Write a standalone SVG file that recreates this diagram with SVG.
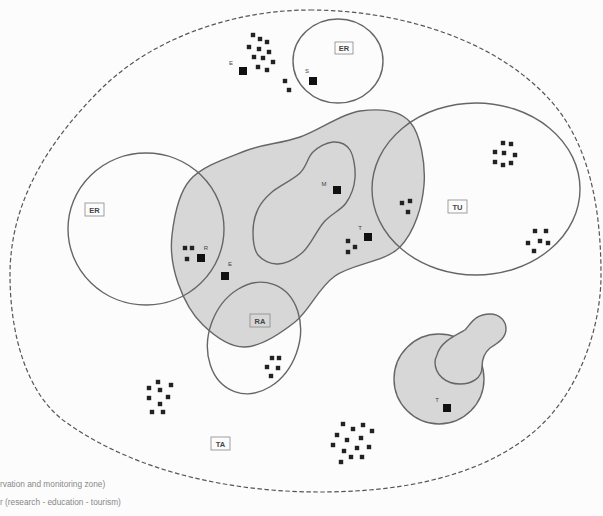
<svg xmlns="http://www.w3.org/2000/svg" xmlns:xlink="http://www.w3.org/1999/xlink" width="603" height="516" viewBox="0 0 603 516">
<style>
.ln{fill:none;stroke:#666;stroke-width:1.4}
.gr{fill:#d7d7d7;stroke:#666;stroke-width:1.4}
.dash{fill:none;stroke:#555;stroke-width:1.2;stroke-dasharray:4.5 2.5}
.box{fill:none;stroke:#888;stroke-width:0.8}
.lb{font-family:"Liberation Sans",Arial,sans-serif;font-size:7.5px;font-weight:bold;fill:#444;text-anchor:middle}
.sm{font-family:"Liberation Sans",Arial,sans-serif;font-size:6px;fill:#444;text-anchor:middle}
.cap{font-family:"Liberation Sans",Arial,sans-serif;font-size:8.3px;fill:#888}
.dot{fill:#222}
.sq{fill:#111}
</style>
<defs>
<rect id="d" x="-2.2" y="-2.2" width="4.4" height="4.4" class="dot"/>
<rect id="b" x="-4" y="-4" width="8" height="8" class="sq"/>
</defs>
<rect width="603" height="516" fill="#fcfcfc"/>

<g id="zones">
<path id="outer" class="dash" d="M310,10 C395,10 493,37 550,100 C590,144 601,210 601,275 C601,330 577,398 530,435 C474,480 392,492 320,492 C233,492 138,473 67,423 C25,394 10,331 10,275 C10,205 45,145 100,90 C153,37 235,10 310,10 Z"/>
<path id="core" class="gr" d="M172,235 C174,217.8 177.8,194 190,180 C202.2,166 226.7,158.2 245,151 C263.3,143.8 280.8,143.7 300,137 C319.2,130.3 341.7,113.5 360,111 C378.3,108.5 399.3,109.7 410,122 C420.7,134.3 425.7,164.2 424,185 C422.3,205.8 414.8,231.8 400,247 C385.2,262.2 352.5,263.5 335,276 C317.5,288.5 310,310.2 295,322 C280,333.8 260.3,346.5 245,347 C229.7,347.5 214.2,335.7 203,325 C191.8,314.3 183.2,298 178,283 C172.8,268 170,252.2 172,235 Z"/>
<path id="inner" class="ln" d="M253,232 C253,224.3 254.8,215.7 258,209 C261.2,202.3 265,198 272,192 C279,186 293.2,179.7 300,173 C306.8,166.3 307.5,157.2 313,152 C318.5,146.8 326.8,142.3 333,142 C339.2,141.7 346.3,144 350,150 C353.7,156 355.7,169.2 355,178 C354.3,186.8 351.2,195.7 346,203 C340.8,210.3 331.2,213.8 324,222 C316.8,230.2 310.7,245 303,252 C295.3,259 285.5,263.5 278,264 C270.5,264.5 262.2,260.3 258,255 C253.8,249.7 253,239.7 253,232 Z"/>
<ellipse id="er-left" class="ln" cx="146" cy="229" rx="78" ry="76"/>
<ellipse id="er-top" class="ln" cx="338" cy="61" rx="45" ry="42"/>
<ellipse id="tu" class="ln" cx="476" cy="189" rx="104" ry="86"/>
<ellipse id="ra" class="ln" cx="254" cy="338" rx="45" ry="57" transform="rotate(20 254 338)"/>
<circle id="core2" class="gr" cx="439" cy="379" r="45"/>
<path id="core2b" class="gr" d="M437,355 C440,343 452,337 465,330 C472,322 476,314 490,314 C500,314 506,321 506,329 C506,338 498,343 490,348 C484,353 482,360 482,367 C482,378 472,384 460,384 C446,384 435,375 435,362 C435,359 436,357 437,355 Z"/>
</g>

<g id="labels">
<rect class="box" x="335" y="42" width="18" height="12"/><text class="lb" x="344" y="51">ER</text>
<rect class="box" x="85" y="203" width="19" height="13"/><text class="lb" x="94.5" y="212.5">ER</text>
<rect class="box" x="448" y="200" width="19" height="13"/><text class="lb" x="457.5" y="209.5">TU</text>
<rect class="box" x="250" y="314" width="20" height="13"/><text class="lb" x="260" y="323.5">RA</text>
<rect class="box" x="211" y="437" width="19" height="13"/><text class="lb" x="220.5" y="446.5">TA</text>
</g>

<g id="sites">
<text class="sm" x="231" y="65">E</text><use xlink:href="#b" x="243" y="71"/>
<text class="sm" x="307" y="73">S</text><use xlink:href="#b" x="313" y="81"/>
<text class="sm" x="206" y="250">R</text><use xlink:href="#b" x="201" y="258"/>
<text class="sm" x="230" y="266">E</text><use xlink:href="#b" x="225" y="276"/>
<text class="sm" x="324" y="186">M</text><use xlink:href="#b" x="337" y="190"/>
<text class="sm" x="360" y="230">T</text><use xlink:href="#b" x="368" y="237"/>
<text class="sm" x="437" y="402">T</text><use xlink:href="#b" x="447" y="408"/>
</g>

<g id="clusters">
<use xlink:href="#d" x="253" y="35"/><use xlink:href="#d" x="260" y="39"/><use xlink:href="#d" x="267" y="42"/>
<use xlink:href="#d" x="249" y="47"/><use xlink:href="#d" x="259" y="49"/><use xlink:href="#d" x="269" y="52"/>
<use xlink:href="#d" x="254" y="57"/><use xlink:href="#d" x="263" y="58"/><use xlink:href="#d" x="273" y="62"/>
<use xlink:href="#d" x="258" y="67"/><use xlink:href="#d" x="267" y="70"/>
<use xlink:href="#d" x="285" y="81"/><use xlink:href="#d" x="289" y="90"/>

<use xlink:href="#d" x="185" y="248"/><use xlink:href="#d" x="192" y="248"/><use xlink:href="#d" x="187" y="259"/>

<use xlink:href="#d" x="348" y="241"/><use xlink:href="#d" x="355" y="247"/><use xlink:href="#d" x="348" y="252"/>

<use xlink:href="#d" x="402" y="203"/><use xlink:href="#d" x="410" y="201"/><use xlink:href="#d" x="408" y="212"/>

<use xlink:href="#d" x="503" y="143"/><use xlink:href="#d" x="511" y="144"/><use xlink:href="#d" x="495" y="152"/>
<use xlink:href="#d" x="504" y="153"/><use xlink:href="#d" x="515" y="155"/><use xlink:href="#d" x="495" y="162"/>
<use xlink:href="#d" x="503" y="165"/><use xlink:href="#d" x="511" y="163"/>

<use xlink:href="#d" x="535" y="231"/><use xlink:href="#d" x="546" y="231"/><use xlink:href="#d" x="528" y="243"/>
<use xlink:href="#d" x="540" y="241"/><use xlink:href="#d" x="548" y="243"/><use xlink:href="#d" x="534" y="251"/>

<use xlink:href="#d" x="272" y="358"/><use xlink:href="#d" x="279" y="358"/><use xlink:href="#d" x="267" y="367"/>
<use xlink:href="#d" x="278" y="368"/><use xlink:href="#d" x="271" y="376"/>

<use xlink:href="#d" x="158" y="382"/><use xlink:href="#d" x="171" y="385"/><use xlink:href="#d" x="149" y="388"/>
<use xlink:href="#d" x="160" y="390"/><use xlink:href="#d" x="168" y="397"/><use xlink:href="#d" x="149" y="398"/>
<use xlink:href="#d" x="160" y="404"/><use xlink:href="#d" x="152" y="412"/><use xlink:href="#d" x="163" y="412"/>

<use xlink:href="#d" x="343" y="424"/><use xlink:href="#d" x="353" y="429"/><use xlink:href="#d" x="363" y="425"/>
<use xlink:href="#d" x="372" y="431"/><use xlink:href="#d" x="337" y="435"/><use xlink:href="#d" x="347" y="440"/>
<use xlink:href="#d" x="361" y="438"/><use xlink:href="#d" x="333" y="445"/><use xlink:href="#d" x="344" y="451"/>
<use xlink:href="#d" x="357" y="448"/><use xlink:href="#d" x="369" y="447"/><use xlink:href="#d" x="351" y="457"/>
<use xlink:href="#d" x="362" y="457"/><use xlink:href="#d" x="341" y="462"/>
</g>

<g id="caption">
<text class="cap" x="0" y="487">rvation and monitoring zone)</text>
<text class="cap" x="0" y="505">r (research - education - tourism)</text>
</g>
</svg>
